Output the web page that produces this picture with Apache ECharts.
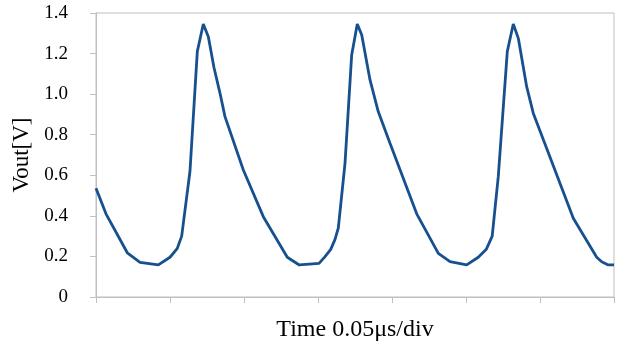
<!DOCTYPE html>
<html>
<head>
<meta charset="utf-8">
<script src="https://cdn.jsdelivr.net/npm/echarts@6/dist/echarts.min.js"></script>
<style>html,body{margin:0;padding:0;background:#fff}#c{width:620px;height:342px}</style>
</head>
<body>
<div id="c"></div>
<script>
// time in divisions (0.05 µs per division)
const timeDiv = [
  0.000, 0.135, 0.423, 0.595, 0.842, 1.000, 1.099, 1.158, 1.270, 1.369, 1.450, 1.518, 1.595, 1.676, 1.743, 1.991, 2.261, 2.585, 2.747,
  3.014, 3.095, 3.172, 3.230, 3.274, 3.365, 3.455, 3.531, 3.591, 3.703, 3.815, 3.973, 4.334, 4.626, 4.784, 5.009,
  5.166, 5.274, 5.354, 5.436, 5.558, 5.639, 5.707, 5.820, 5.909, 6.450, 6.766, 6.834, 6.923, 7.000
];
const vout = [
  0.536, 0.410, 0.218, 0.171, 0.158, 0.196, 0.240, 0.300, 0.620, 1.210, 1.346, 1.283, 1.130, 1.004, 0.889, 0.626, 0.396, 0.196, 0.158,
  0.166, 0.199, 0.235, 0.284, 0.339, 0.659, 1.193, 1.346, 1.292, 1.070, 0.913, 0.758, 0.410, 0.215, 0.174, 0.158,
  0.196, 0.235, 0.300, 0.593, 1.210, 1.346, 1.275, 1.037, 0.906, 0.388, 0.196, 0.174, 0.158, 0.158
];
const yTicks = ['0', '0.2', '0.4', '0.6', '0.8', '1.0', '1.2', '1.4'];

const chart = echarts.init(document.getElementById('c'), null, {renderer: 'canvas'});
const gray = '#BFBFBF';
const font = '"Liberation Serif", "Times New Roman", serif';
chart.setOption({
  animation: false,
  grid: {left: 96, right: 6, top: 13, bottom: 45, show: true, borderColor: gray, borderWidth: 1,
         containLabel: false, outerBoundsMode: 'none'},
  xAxis: {
    type: 'value', min: 0, max: 7, interval: 1,
    name: 'Time 0.05μs/div', nameLocation: 'middle', nameGap: 21,
    nameTextStyle: {fontFamily: font, fontSize: 24, color: '#000'},
    axisLine: {show: true, lineStyle: {color: gray, width: 1}},
    axisTick: {show: true, length: 6, lineStyle: {color: gray}},
    axisLabel: {show: false},
    splitLine: {show: false}
  },
  yAxis: {
    type: 'value', min: 0, max: 1.4, interval: 0.2,
    name: 'Vout[V]', nameLocation: 'middle', nameGap: 58,
    nameTextStyle: {fontFamily: font, fontSize: 23, color: '#000'},
    axisLine: {show: true, lineStyle: {color: gray, width: 1}},
    axisTick: {show: true, length: 6, lineStyle: {color: gray}},
    axisLabel: {
      margin: 28, fontFamily: font, fontSize: 19, color: '#000', padding: [4, 0, 0, 0],
      formatter: function (v) { return yTicks[Math.round(v / 0.2)]; }
    },
    splitLine: {show: false}
  },
  series: [{
    type: 'line',
    data: timeDiv.map((t, i) => [t, vout[i]]),
    showSymbol: false,
    lineStyle: {color: '#16508F', width: 2.8},
    clip: false
  }]
});
</script>
</body>
</html>
